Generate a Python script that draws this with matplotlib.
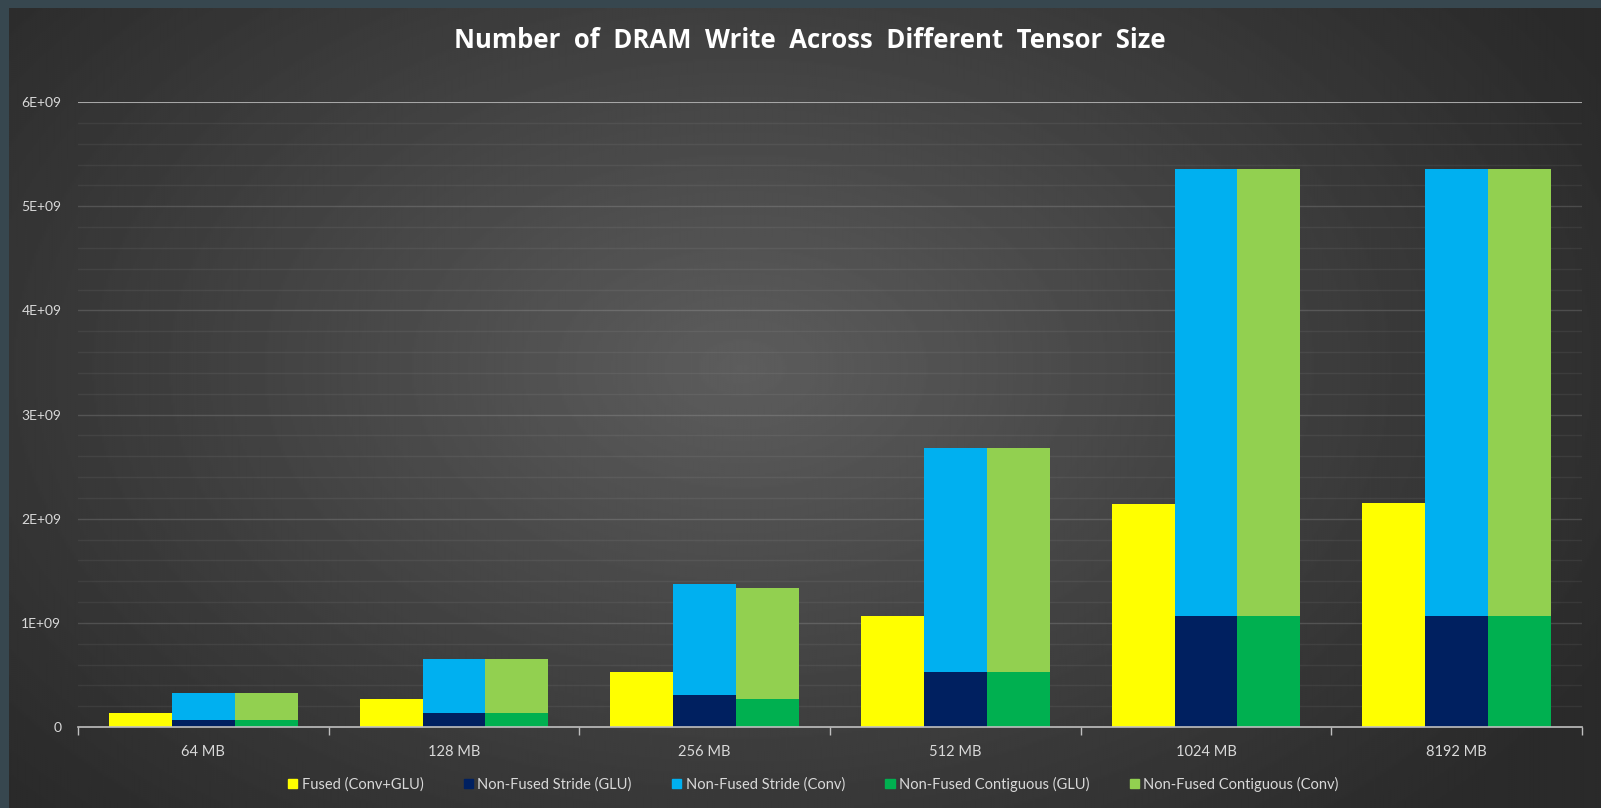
import numpy as np
import matplotlib
matplotlib.use('Agg')
import matplotlib.pyplot as plt
from matplotlib.ticker import FuncFormatter, MultipleLocator, FixedLocator, NullFormatter
from matplotlib.patches import Patch

# DRAM write counts per tensor size
sizes = ['64 MB', '128 MB', '256 MB', '512 MB', '1024 MB', '8192 MB']
fused = [0.131e9, 0.265e9, 0.525e9, 1.068e9, 2.138e9, 2.147e9]
stride_glu = [0.067e9, 0.134e9, 0.304e9, 0.525e9, 1.068e9, 1.068e9]
stride_conv = [0.262e9, 0.523e9, 1.066e9, 2.150e9, 4.292e9, 4.292e9]
contig_glu = [0.067e9, 0.134e9, 0.266e9, 0.525e9, 1.068e9, 1.068e9]
contig_conv = [0.262e9, 0.523e9, 1.065e9, 2.150e9, 4.292e9, 4.292e9]

C_FUSED = '#FFFF00'
C_STRIDE_GLU = '#002060'
C_STRIDE_CONV = '#00B0F0'
C_CONTIG_GLU = '#00B050'
C_CONTIG_CONV = '#92D050'
TXT = '#d9d9d9'

W, H = 1601, 808
fig = plt.figure(figsize=(W / 100, H / 100), dpi=100)
fig.patch.set_facecolor('#37474F')

# radial gradient backdrop
bg = fig.add_axes([9 / W, 0, 1 - 9 / W, 1 - 8 / H], zorder=-10)
yy, xx = np.mgrid[0:1:400j, 0:1:800j]
r = np.sqrt(((xx - 0.46) / 0.62) ** 2 + ((yy - 0.45) / 0.80) ** 2)
t = np.clip(1 - r, 0, 1) ** 1.1
c_out, c_in = 0.165, 0.365
bg.imshow(c_out + (c_in - c_out) * t, cmap='gray', vmin=0, vmax=1,
          extent=[0, 1, 1, 0], aspect='auto', interpolation='bilinear')
bg.set_axis_off()

ax = fig.add_axes([78 / W, 81 / H, (1582 - 78) / W, (727 - 102) / H])
ax.set_facecolor('none')

x = np.arange(len(sizes)) + 0.5
bw = 0.251
stride_base = np.array(stride_glu)
contig_base = np.array(contig_glu)
ax.bar(x - bw, fused, bw, color=C_FUSED, zorder=3)
ax.bar(x, stride_glu, bw, color=C_STRIDE_GLU, zorder=3)
ax.bar(x, stride_conv, bw, bottom=stride_base, color=C_STRIDE_CONV, zorder=3)
ax.bar(x + bw, contig_glu, bw, color=C_CONTIG_GLU, zorder=3)
ax.bar(x + bw, contig_conv, bw, bottom=contig_base, color=C_CONTIG_CONV, zorder=3)

ax.set_xlim(0, len(sizes))
ax.set_ylim(0, 6e9)

# gridlines: faint minor every 0.2E9, slightly stronger major, bright top line
for v in np.arange(0.2e9, 6e9, 0.2e9):
    major = abs(v / 1e9 - round(v / 1e9)) < 1e-6
    ax.axhline(v, color='white', lw=1.0, alpha=0.14 if major else 0.06, zorder=1)
ax.axhline(6e9, color='#a6a6a6', lw=1.5, zorder=1)

for s in ['top', 'right', 'left']:
    ax.spines[s].set_visible(False)
ax.spines['bottom'].set_color('#bfbfbf')
ax.spines['bottom'].set_linewidth(1.2)
ax.spines['bottom'].set_zorder(4)

ax.xaxis.set_major_locator(FixedLocator(np.arange(len(sizes) + 1)))
ax.xaxis.set_major_formatter(NullFormatter())
ax.xaxis.set_minor_locator(FixedLocator(x))
ax.set_xticklabels(sizes, minor=True)
ax.tick_params(axis='x', which='major', length=6, width=1, color='#bfbfbf', direction='out')
ax.tick_params(axis='x', which='minor', length=0, pad=13, labelsize=10.5, labelcolor=TXT)

ax.yaxis.set_major_locator(MultipleLocator(1e9))
ax.yaxis.set_major_formatter(FuncFormatter(lambda v, p: '0' if v == 0 else f'{v / 1e9:.0f}E+09'))
ax.tick_params(axis='y', length=0, pad=12, labelsize=10, labelcolor=TXT)

for lab in ax.get_xticklabels(minor=True) + ax.get_yticklabels():
    lab.set_family('Lato')

fig.text(0.506, 1 - 41 / H, 'Number  of  DRAM  Write  Across  Different  Tensor  Size',
         ha='center', va='center', color='white', fontsize=18.5, fontweight='bold',
         family='Open Sans')

handles = [Patch(color=C_FUSED, label='Fused (Conv+GLU)'),
           Patch(color=C_STRIDE_GLU, label='Non-Fused Stride (GLU)'),
           Patch(color=C_STRIDE_CONV, label='Non-Fused Stride (Conv)'),
           Patch(color=C_CONTIG_GLU, label='Non-Fused Contiguous (GLU)'),
           Patch(color=C_CONTIG_CONV, label='Non-Fused Contiguous (Conv)')]
fig.legend(handles=handles, loc='center', bbox_to_anchor=(0.508, 1 - 784 / H), ncol=5,
           frameon=False, handlelength=0.65, handleheight=0.65, handletextpad=0.3,
           columnspacing=2.75, prop={'family': 'Lato', 'size': 10.5}, labelcolor=TXT)

fig.savefig('out.png', dpi=100, facecolor=fig.get_facecolor())
